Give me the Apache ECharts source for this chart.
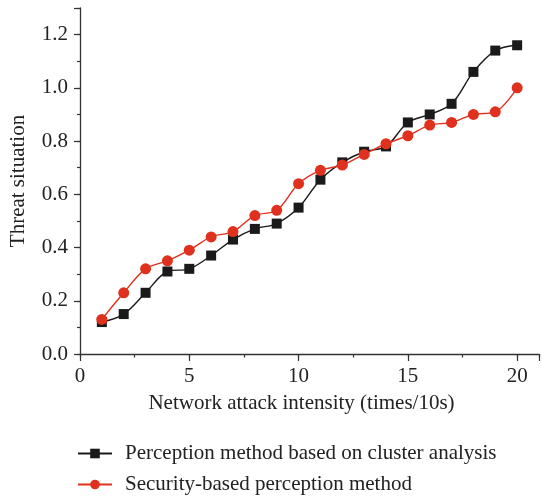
<!DOCTYPE html>
<html>
<head>
<meta charset="utf-8">
<style>
  html, body { margin: 0; padding: 0; background: #fff; }
  #chart { width: 542px; height: 496px; }
</style>
<script src="https://cdn.jsdelivr.net/npm/echarts@6/dist/echarts.min.js"></script>
</head>
<body>
<div id="chart"></div>
<script>
// Attack intensity (times/10s)
const intensity = [1, 2, 3, 4, 5, 6, 7, 8, 9, 10, 11, 12, 13, 14, 15, 16, 17, 18, 19, 20];
// Threat situation estimated by each method
const clusterMethod = [0.12, 0.15, 0.23, 0.31, 0.32, 0.37, 0.43, 0.47, 0.49, 0.55,
                       0.655, 0.72, 0.76, 0.78, 0.87, 0.90, 0.94, 1.06, 1.14, 1.16];
const securityMethod = [0.13, 0.23, 0.32, 0.35, 0.39, 0.44, 0.46, 0.52, 0.54, 0.64,
                        0.69, 0.71, 0.75, 0.79, 0.82, 0.86, 0.87, 0.90, 0.91, 1.00];
const seriesNames = ['Perception method based on cluster analysis', 'Security-based perception method'];
const xTitle = 'Network attack intensity (times/10s)';
const yTitle = 'Threat situation';

const FONT = '"Liberation Serif", "DejaVu Serif", serif';
const AXIS = '#333';
const FS = 21;

const chart = echarts.init(document.getElementById('chart'), null, { renderer: 'canvas' });

const pairs = (ys) => intensity.map((x, i) => [x, ys[i]]);

chart.setOption({
  animation: false,
  backgroundColor: '#fff',
  textStyle: { fontFamily: FONT },
  grid: { left: 79, right: -4, top: 8, bottom: 142, containLabel: false },
  legend: {
    orient: 'vertical',
    left: 77,
    top: 443,
    padding: 0,
    height: 60,
    itemWidth: 34,
    itemHeight: 12,
    itemGap: 10,
    selectedMode: false,
    textStyle: { fontFamily: FONT, fontSize: FS, color: '#222', lineHeight: 21, padding: [0, 0, 0, 8] },
    data: seriesNames
  },
  xAxis: [
    {
      type: 'value', min: 0, max: 21, interval: 5,
      name: xTitle, nameLocation: 'middle', nameGap: 39,
      nameTextStyle: { fontFamily: FONT, fontSize: FS, color: '#222', padding: [0, 16, 0, 0] },
      axisLine: { show: true, lineStyle: { color: AXIS, width: 1.3 } },
      axisTick: { show: true, inside: false, length: 7, lineStyle: { color: AXIS, width: 1.2 } },
      axisLabel: {
        fontFamily: FONT, fontSize: FS, color: '#222', margin: 12,
        formatter: (v) => (v % 5 === 0 && v <= 20 ? String(v) : '')
      },
      splitLine: { show: false }
    },
    {
      type: 'value', min: 0, max: 21, interval: 2.5, position: 'bottom',
      axisLine: { show: false },
      axisTick: { show: true, inside: false, length: 3.5, lineStyle: { color: AXIS, width: 1.2 } },
      axisLabel: { show: false },
      splitLine: { show: false }
    }
  ],
  yAxis: [
    {
      type: 'value', min: 0, max: 1.3, interval: 0.2,
      name: yTitle, nameLocation: 'middle', nameGap: 51,
      nameTextStyle: { fontFamily: FONT, fontSize: FS, color: '#222' },
      axisLine: { show: true, lineStyle: { color: AXIS, width: 1.3 } },
      axisTick: { show: true, inside: false, length: 6, lineStyle: { color: AXIS, width: 1.2 } },
      axisLabel: {
        fontFamily: FONT, fontSize: FS, color: '#222', margin: 12,
        formatter: (v) => (Math.round(v * 10) % 2 === 0 && v <= 1.21 ? v.toFixed(1) : '')
      },
      splitLine: { show: false }
    },
    {
      type: 'value', min: 0, max: 1.3, interval: 0.1, position: 'left',
      axisLine: { show: false },
      axisTick: { show: true, inside: false, length: 3, lineStyle: { color: AXIS, width: 1.2 } },
      axisLabel: { show: false },
      splitLine: { show: false }
    }
  ],
  series: [
    {
      name: seriesNames[0],
      type: 'line',
      xAxisIndex: 0, yAxisIndex: 0,
      data: pairs(clusterMethod),
      smooth: 0.35,
      symbol: 'rect',
      symbolSize: 10,
      itemStyle: { color: '#1a1a1a' },
      lineStyle: { color: '#1a1a1a', width: 1.4 },
      z: 3
    },
    {
      name: seriesNames[1],
      type: 'line',
      xAxisIndex: 0, yAxisIndex: 0,
      data: pairs(securityMethod),
      smooth: 0.35,
      symbol: 'circle',
      symbolSize: 11,
      itemStyle: { color: '#e0301e' },
      lineStyle: { color: '#e0301e', width: 1.4 },
      z: 4
    }
  ]
});
</script>
</body>
</html>
